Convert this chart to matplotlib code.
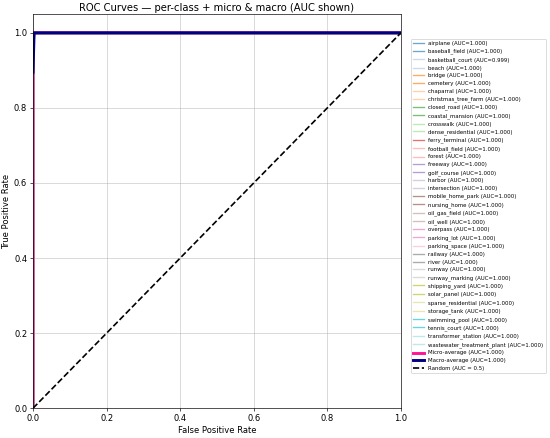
import numpy as np
import matplotlib
matplotlib.use("Agg")
import matplotlib.pyplot as plt

# class names and per-class AUC shown in the legend
classes = ["airplane", "baseball_field", "basketball_court", "beach", "bridge",
           "cemetery", "chaparral", "christmas_tree_farm", "closed_road",
           "coastal_mansion", "crosswalk", "dense_residential", "ferry_terminal",
           "football_field", "forest", "freeway", "golf_course", "harbor",
           "intersection", "mobile_home_park", "nursing_home", "oil_gas_field",
           "oil_well", "overpass", "parking_lot", "parking_space", "railway",
           "river", "runway", "runway_marking", "shipping_yard", "solar_panel",
           "sparse_residential", "storage_tank", "swimming_pool", "tennis_court",
           "transformer_station", "wastewater_treatment_plant"]
aucs = [1.000] * len(classes)
aucs[2] = 0.999

# per-class roc: almost all perfect (tpr jumps to 1 at fpr=0)
class_fpr = [0.0, 0.0, 1.0]
class_tpr = [0.0, 1.0, 1.0]
bc_fpr = [0.0, 0.0, 0.004, 1.0]
bc_tpr = [0.0, 0.97, 1.0, 1.0]

micro_fpr = [0.0, 0.0, 0.003, 1.0]
micro_tpr = [0.0, 0.97, 1.0, 1.0]
micro_auc = 1.000
# macro curve starts at the first point of the interpolation grid
macro_fpr = [0.0, 0.003, 1.0]
macro_tpr = [0.895, 1.0, 1.0]
macro_auc = 1.000

fig = plt.figure(figsize=(550 / 60, 438 / 60), dpi=60)
ax = fig.add_axes([0.06, 0.068, 0.669, 0.9])

colors = plt.cm.tab20(np.linspace(0, 1, len(classes)))
for i, c in enumerate(classes):
    if i == 2:
        fx, fy = bc_fpr, bc_tpr
    else:
        fx, fy = class_fpr, class_tpr
    ax.plot(fx, fy, color=colors[i], lw=1.6, alpha=0.65,
            label=f"{c} (AUC={aucs[i]:.3f})")

ax.plot(micro_fpr, micro_tpr, color="deeppink", lw=3.5,
        label=f"Micro-average (AUC={micro_auc:.3f})")
ax.plot(macro_fpr, macro_tpr, color="navy", lw=3.5,
        label=f"Macro-average (AUC={macro_auc:.3f})")
ax.plot([0, 1], [0, 1], "k--", lw=2, label="Random (AUC = 0.5)")

ax.set_xlim(0, 1)
ax.set_ylim(0, 1.05)
ax.set_xlabel("False Positive Rate")
ax.set_ylabel("True Positive Rate")
ax.set_title("ROC Curves — per-class + micro & macro (AUC shown)", pad=4)
ax.grid(True, alpha=0.7)
ax.legend(loc="center left", bbox_to_anchor=(1.02, 0.513), fontsize=6.5,
          labelspacing=0.5)

fig.savefig("out.png", dpi=60)
